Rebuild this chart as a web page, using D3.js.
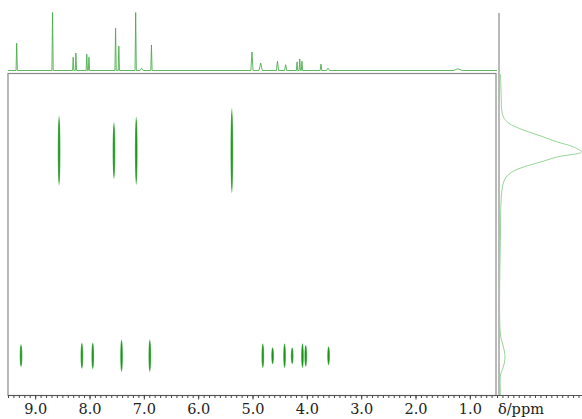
<!DOCTYPE html>
<html>
<head>
<meta charset="utf-8">
<script src="https://cdnjs.cloudflare.com/ajax/libs/d3/7.8.5/d3.min.js"></script>
<style>
html,body{margin:0;padding:0;background:#fff;}
svg{display:block;}
</style>
</head>
<body>
<svg id="chart" width="582" height="419"></svg>
<script>
// ---------------- data ----------------
// 1D proton spectrum (top trace): chemical shift (ppm), relative height, half width (ppm)
const specPpm    = [9.34, 8.68, 8.30, 8.25, 8.05, 8.01, 7.52, 7.46, 7.15, 7.04, 6.86, 5.01, 4.85, 4.54, 4.39, 4.18, 4.13, 4.09, 3.74, 3.61, 1.22];
const specHeight = [0.47, 1.00, 0.23, 0.30, 0.28, 0.23, 0.73, 0.42, 1.00, 0.04, 0.44, 0.32, 0.13, 0.16, 0.10, 0.15, 0.20, 0.16, 0.11, 0.04, 0.03];
const specWidth  = [0.012,0.012,0.012,0.012,0.012,0.012,0.012,0.012,0.012,0.03,0.012,0.02,0.03,0.02,0.02,0.012,0.012,0.012,0.015,0.03,0.08];

// DOSY cross peaks: shift (ppm), log D, half extent in log D
const peakPpm    = [8.56, 7.55, 7.14, 5.38,
                    9.26, 8.14, 7.94, 7.41, 6.89, 4.81, 4.63, 4.41, 4.27, 4.08, 4.02, 3.60];
const peakLogD   = [-9.23, -9.23, -9.23, -9.23,
                    -10.38, -10.38, -10.38, -10.38, -10.38, -10.38, -10.38, -10.38, -10.38, -10.38, -10.38, -10.38];
const peakSpread = [0.196, 0.159, 0.191, 0.238,
                    0.064, 0.073, 0.075, 0.091, 0.091, 0.070, 0.048, 0.070, 0.047, 0.070, 0.061, 0.053];

// diffusion projection (right trace): log D, relative intensity
const projLogD = [-8.800, -8.946, -9.002, -9.041, -9.075, -9.114, -9.148, -9.181, -9.209, -9.237,
                  -9.265, -9.293, -9.322, -9.350, -9.378, -9.411, -9.450, -9.523, -9.675,
                  -10.264, -10.320, -10.359, -10.387, -10.415, -10.449, -10.488, -10.600];
const projInt  = [0.000, 0.010, 0.015, 0.035, 0.100, 0.280, 0.500, 0.700, 0.900, 1.000,
                  0.700, 0.500, 0.280, 0.140, 0.070, 0.035, 0.018, 0.006, 0.000,
                  0.000, 0.030, 0.050, 0.055, 0.050, 0.030, 0.000, 0.000];

// axis tick labels
const majorTicks = [9, 8, 7, 6, 5, 4, 3, 2, 1];
const axisTitle = "δ/ppm";

// ---------------- layout ----------------
const svg = d3.select("#chart");
const frame = {left: 8, right: 496, top: 73.5, bottom: 395.5};
const FONT = "'DejaVu Serif', serif";

const x = d3.scaleLinear().domain([9.5, 0.5]).range([8, 497]);
const xExt = d3.scaleLinear().domain([9.5, x.invert(582)]).range([8, 582]);
const yD = d3.scaleLinear().domain([-8.8, -10.6]).range([74, 395]);
const yS = d3.scaleLinear().domain([0, 1]).range([70.5, 12.5]);
const xP = d3.scaleLinear().domain([0, 1]).range([500.5, 581.5]);

// ---------------- top 1D spectrum ----------------
const specPts = [[9.5, 0]];
specPpm.map((p, i) => ({p, h: specHeight[i], w: specWidth[i]}))
  .sort((a, b) => b.p - a.p)
  .forEach(d => {
    specPts.push([d.p + d.w, 0]);
    specPts.push([d.p, d.h]);
    specPts.push([d.p - d.w, 0]);
  });
specPts.push([x.invert(497), 0]);

svg.append("path")
  .attr("d", d3.line().x(d => x(d[0])).y(d => yS(d[1]))(specPts))
  .attr("fill", "none")
  .attr("stroke", "#45aa45")
  .attr("stroke-width", 0.85)
  .attr("stroke-linejoin", "round");

// ---------------- frame ----------------
svg.append("rect")
  .attr("x", frame.left).attr("y", frame.top)
  .attr("width", frame.right - frame.left).attr("height", frame.bottom - frame.top)
  .attr("fill", "none").attr("stroke", "#8a8a8a").attr("stroke-width", 1.2);

svg.append("line")
  .attr("x1", 499).attr("x2", 499).attr("y1", 13).attr("y2", 395.5)
  .attr("stroke", "#8a8a8a").attr("stroke-width", 1.2);

// ---------------- right projection ----------------
const projPts = projLogD.map((d, i) => [d, projInt[i]]);
svg.append("path")
  .attr("d", d3.line().x(d => xP(d[1])).y(d => yD(d[0])).curve(d3.curveCatmullRom)(projPts))
  .attr("fill", "none")
  .attr("stroke", "#96d596")
  .attr("stroke-width", 1);

// ---------------- cross peaks ----------------
const gPk = svg.append("g");
peakPpm.forEach((p, i) => {
  const cx = x(p), cy = yD(peakLogD[i]);
  const ry = yD(peakLogD[i] - peakSpread[i]) - cy;
  gPk.append("ellipse").attr("cx", cx).attr("cy", cy)
    .attr("rx", 1.35).attr("ry", ry)
    .attr("fill", "#5dbb5d");
  gPk.append("ellipse").attr("cx", cx).attr("cy", cy)
    .attr("rx", 0.7).attr("ry", ry * 0.9)
    .attr("fill", "#1a921a");
});

// ---------------- x axis ----------------
const minorTicks = d3.range(95, Math.floor(x.invert(582) * 10) - 1, -1).map(v => v / 10);
const gAx = svg.append("g").attr("transform", `translate(0,${frame.bottom})`);
gAx.append("line").attr("x1", 8).attr("x2", 582).attr("y1", 0).attr("y2", 0)
  .attr("stroke", "#555").attr("stroke-width", 1);
gAx.append("g").call(d3.axisBottom(xExt).tickValues(minorTicks).tickSize(2.5).tickFormat(""))
  .call(g => g.select(".domain").remove())
  .call(g => g.selectAll("line").attr("stroke", "#444"));
gAx.append("g").call(d3.axisBottom(xExt).tickValues(majorTicks).tickSize(4).tickPadding(4.5).tickFormat(d3.format(".1f")))
  .call(g => g.select(".domain").remove())
  .call(g => g.selectAll("line").attr("stroke", "#444"))
  .call(g => g.selectAll("text").attr("font-family", FONT).attr("font-size", 14.5).attr("fill", "#222"));

svg.append("text")
  .attr("x", 498).attr("y", 414)
  .attr("font-family", FONT).attr("font-size", 14.5).attr("fill", "#222")
  .text(axisTitle);
</script>
</body>
</html>
